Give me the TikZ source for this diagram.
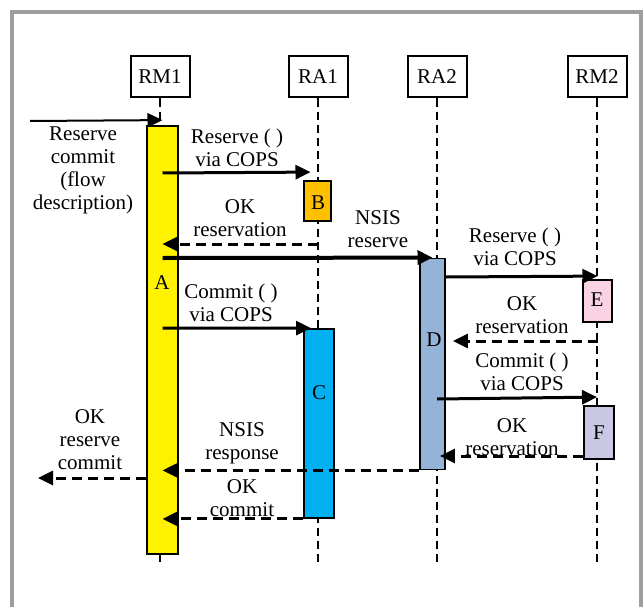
\documentclass[tikz,border=0pt]{standalone}
\usepackage{fontspec}
\setmainfont{Liberation Serif}
\usetikzlibrary{arrows.meta, calc}

\definecolor{barA}{RGB}{255,242,0}
\definecolor{barB}{RGB}{255,192,0}
\definecolor{barC}{RGB}{0,176,240}
\definecolor{barD}{RGB}{149,179,215}
\definecolor{barE}{RGB}{249,210,228}
\definecolor{barF}{RGB}{200,200,228}

\tikzset{
  entity/.style={draw, line width=2pt, fill=white, inner sep=0pt,
    minimum width=59pt, minimum height=41pt, font=\fontsize{21}{23}\selectfont},
  lifeline/.style={line width=2.6pt, dash pattern=on 8pt off 5pt},
  bar/.style={draw, line width=1.8pt, inner sep=0pt},
  msg/.style={line width=3pt, -{Triangle[length=15pt, width=14pt]}},
  reply/.style={msg, dash pattern=on 10pt off 6pt},
  txt/.style={align=center, inner sep=0pt, font=\fontsize{21}{23}\selectfont}
}

\begin{document}
\begin{tikzpicture}[x=1pt, y=-1pt]
    \useasboundingbox (0,0) rectangle (644,607);

    % Grey frame
    \draw[line width=4pt, black!38]
      (12,607) -- (12,12) -- (641,12) -- (641,607);

    % Entities
    \node[entity] (rm1) at (160,77) {RM1};
    \node[entity] (ra1) at (318,77) {RA1};
    \node[entity] (ra2) at (437,77) {RA2};
    \node[entity] (rm2) at (597,77) {RM2};

    % Lifelines
    \foreach \n in {rm1, ra1, ra2, rm2} {
      \draw[lifeline]
        (\n.south) -- (\n.south |- 0,565);
    }

    % Activation bars
    \node[bar, fill=barA, minimum width=31pt, minimum height=428pt]
      (A) at (162.5,340) {};
    \node[bar, fill=barB, minimum width=27pt, minimum height=40pt]
      (B) at (317.5,201) {};
    \node[bar, fill=barC, minimum width=30pt, minimum height=189pt]
      (C) at (319,423.5) {};
    \node[bar, fill=barD, minimum width=25pt, minimum height=211pt]
      (D) at (432.5,364) {};
    \node[bar, fill=barE, minimum width=29pt, minimum height=42pt]
      (E) at (597.5,301) {};
    \node[bar, fill=barF, minimum width=30pt, minimum height=53pt]
      (F) at (599,432.5) {};

    % Bar letters
    \node[txt] (lA) at (162,283) {A};
    \node[txt] (lB) at (318,203) {B};
    \node[txt] (lC) at (319,393) {C};
    \node[txt] (lD) at (434,340) {D};
    \node[txt] (lE) at (597,300) {E};
    \node[txt] (lF) at (599,433) {F};

    % Messages
    \coordinate (src) at (30,121);
    \coordinate (sink) at (38,478);
    \draw[msg, line width=2pt]
      (src) -- ([yshift=5pt]A.north);
    \draw[msg]
      (A.center |- 0,173) -- ($(B.north)+(-7,-8)$);
    \draw[reply]
      (B.south |- 0,244) -- (A.center |- 0,244);
    \draw[msg, line width=4pt]
      (A.center |- 0,258) -- (D.north);
    \draw[msg]
      (D.east |- 0,277) -- ($(E.north)+(0,-3)$);
    \draw[reply]
      (E.south |- 0,341) -- ($(D.east |- 0,341)+(7,0)$);
    \draw[msg]
      (A.center |- 0,328) -- ($(C.north)+(-8,0)$);
    \draw[msg]
      (ra2.south |- 0,399) -- ($(F.north)+(-2,-8)$);
    \draw[reply]
      (F.west |- 0,456) -- ($(D.east |- 0,456)+(-6,0)$);
    \draw[reply]
      (D.south west) -- (A.center |- D.south west);
    \draw[reply]
      (C.south west) -- (A.center |- C.south west);
    \draw[reply]
      (A.west |- sink) -- (sink);

    % Message labels
    \node[txt, anchor=north] (tIn) at (83,127) {Reserve\\commit\\(flow\\description)};
    \node[txt, anchor=north] (tResB) at (237,129) {Reserve ( )\\via COPS};
    \node[txt, anchor=north] (tOkB) at (240,199) {OK\\reservation};
    \node[txt, anchor=north] (tNsis) at (378,210) {NSIS\\reserve};
    \node[txt, anchor=north] (tResE) at (515,228) {Reserve ( )\\via COPS};
    \node[txt, anchor=north] (tOkE) at (522,296) {OK\\reservation};
    \node[txt, anchor=north] (tComC) at (231,284) {Commit ( )\\via COPS};
    \node[txt, anchor=north] (tComF) at (522,353) {Commit ( )\\via COPS};
    \node[txt, anchor=north] (tOkF) at (512,418) {OK\\reservation};
    \node[txt, anchor=north] (tNsisR) at (242,422) {NSIS\\response};
    \node[txt, anchor=north] (tOkC) at (242,479) {OK\\commit};
    \node[txt, anchor=north] (tOkOut) at (90,409) {OK\\reserve\\commit};
  \end{tikzpicture}
\end{document}
